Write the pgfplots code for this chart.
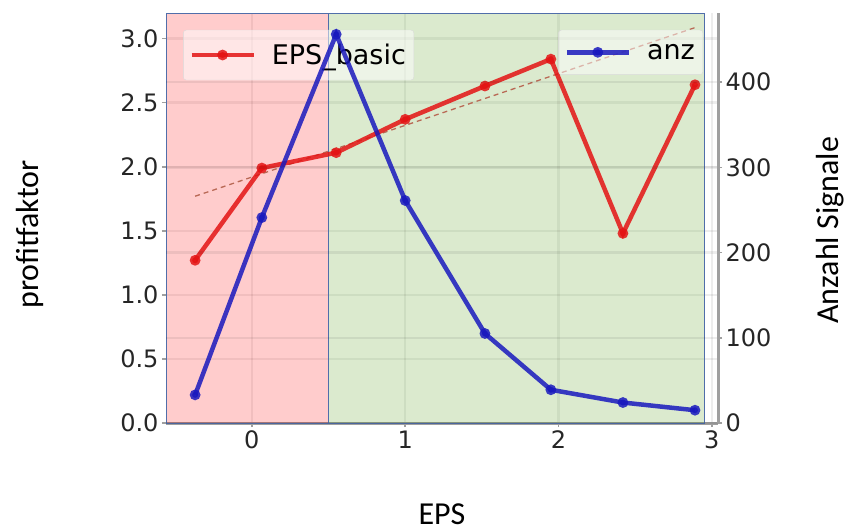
\documentclass[border=0pt]{standalone}
\usepackage{fontspec}
\setmainfont{DejaVu Sans}
\newfontfamily\carlito{Carlito}
\usepackage{pgfplots}
\pgfplotsset{compat=1.18}
\definecolor{lred}{RGB}{228,20,20}
\definecolor{lblue}{RGB}{25,25,190}
\definecolor{trend}{RGB}{185,105,85}
\definecolor{edge}{RGB}{80,110,170}
\definecolor{gfill}{RGB}{110,170,60}
\pgfplotsset{
  common/.style={
    scale only axis, width=552pt, height=410pt,
    xmin=-0.56, xmax=3.04,
    tick style={gray!75, line width=1.5pt}, tick align=outside, major tick length=4pt,
    ticklabel style={font=\fontsize{24}{24}\selectfont, text=black!85},
    /pgf/number format/assume math mode=true,
    grid style={black, opacity=0.07, line width=2.5pt},
    legend style={font=\fontsize{27}{27}\selectfont, fill=white, fill opacity=0.5, text opacity=1,
      draw=black!15, rounded corners=3pt, inner xsep=6pt, inner ysep=12pt},
    legend image code/.code={\draw[mark repeat=2,mark phase=2,#1] plot coordinates {(0pt,0pt) (31pt,0pt) (62pt,0pt)}; \path (76pt,0pt);},
  }
}
\begin{document}
\begin{tikzpicture}
\path[use as bounding box] (-166pt,-108pt) rectangle (685pt,423pt);
\begin{axis}[common,
  ymin=0, ymax=3.2,
  axis x line*=bottom, axis y line*=left,
  x axis line style={draw=gray!75, line width=3pt, -},
  y axis line style={draw=none, -},
  xtick={0,1,2,3}, ytick={0,0.5,1.0,1.5,2.0,2.5,3.0},
  yticklabel style={/pgf/number format/.cd, fixed, fixed zerofill, precision=1},
  grid=major,
  ylabel={\carlito\fontsize{32}{32}\selectfont profitfaktor},
  ylabel style={at={(axis description cs:-0.246,0.46)}, anchor=center},
  xlabel={\carlito\fontsize{32}{32}\selectfont EPS},
  xlabel style={at={(axis description cs:0.5,-0.222)}, anchor=center},
  legend style={at={(0.031,0.959)}, anchor=north west},
]
\addplot[draw=edge, line width=0.8pt, fill=red, fill opacity=0.2, forget plot]
  coordinates {(-0.56,0) (0.5,0) (0.5,3.2) (-0.56,3.2)} -- cycle;
\addplot[draw=edge, line width=0.8pt, fill=gfill, fill opacity=0.25, forget plot]
  coordinates {(0.5,0) (2.951,0) (2.951,3.2) (0.5,3.2)} -- cycle;
\addplot[trend, line width=1.3pt, dash pattern=on 5pt off 4pt, forget plot]
  coordinates {(-0.37,1.77) (2.9,3.09)};
\addplot[lred, opacity=0.85, line width=4.5pt, mark=*, mark size=3pt]
  coordinates {(-0.37,1.27) (0.065,1.99) (0.55,2.11) (1.0,2.37) (1.52,2.63) (1.95,2.84) (2.42,1.48) (2.89,2.64)};
\addlegendentry{EPS\_basic}
\end{axis}
\begin{axis}[common,
  ymin=0, ymax=481,
  axis x line=none, axis y line*=right,
  y axis line style={draw=gray!75, line width=3pt, -},
  ytick={0,100,200,300,400},
  ymajorgrids,
  ylabel={\carlito\fontsize{32}{32}\selectfont Anzahl Signale},
  ylabel style={at={(axis description cs:1.203,0.47)}, anchor=center},
  legend style={at={(0.973,0.959)}, anchor=north east},
]
\addplot[lblue, opacity=0.85, line width=4.5pt, mark=*, mark size=3pt]
  coordinates {(-0.37,33) (0.065,241) (0.55,456) (1.0,261) (1.52,105) (1.95,39) (2.42,24) (2.89,15)};
\addlegendentry{anz}
\end{axis}
\end{tikzpicture}
\end{document}
